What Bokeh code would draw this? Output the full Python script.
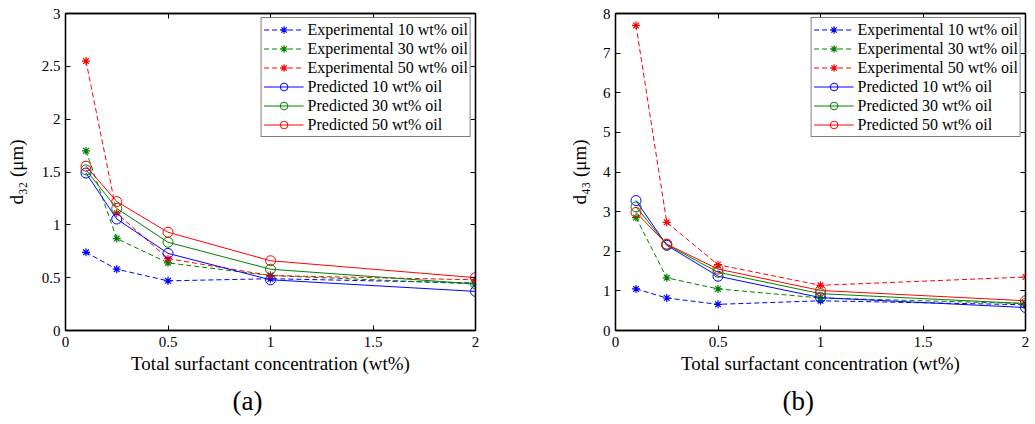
from bokeh.plotting import figure
from bokeh.layouts import row
from bokeh.models import (Range1d, FixedTicker, LinearAxis, Legend, LegendItem,
                          CustomJSTickFormatter, Title)
from bokeh.embed import file_html
from bokeh.resources import INLINE

# ---- data ----
surfactant = [0.1, 0.25, 0.5, 1.0, 2.0]

# panel (a): d32 (um)
exp10_d32 = [0.74, 0.58, 0.47, 0.49, 0.45]
exp30_d32 = [1.70, 0.87, 0.64, 0.52, 0.44]
exp50_d32 = [2.55, 1.11, 0.68, 0.52, 0.48]
pred10_d32 = [1.49, 1.055, 0.73, 0.48, 0.37]
pred30_d32 = [1.52, 1.155, 0.835, 0.58, 0.44]
pred50_d32 = [1.555, 1.22, 0.93, 0.66, 0.50]

# panel (b): d43 (um)
exp10_d43 = [1.05, 0.82, 0.66, 0.75, 0.65]
exp30_d43 = [2.85, 1.33, 1.05, 0.82, 0.68]
exp50_d43 = [7.70, 2.73, 1.66, 1.14, 1.35]
pred10_d43 = [3.28, 2.15, 1.37, 0.83, 0.58]
pred30_d43 = [3.12, 2.17, 1.47, 0.93, 0.68]
pred50_d43 = [2.98, 2.18, 1.55, 1.01, 0.75]

x_ticks = [0, 0.5, 1, 1.5, 2]
x_tick_labels = ["0", "0.5", "1", "1.5", "2"]
y_ticks_a = [0, 0.5, 1, 1.5, 2, 2.5, 3]
y_tick_labels_a = ["0", "0.5", "1", "1.5", "2", "2.5", "3"]
y_ticks_b = [0, 1, 2, 3, 4, 5, 6, 7, 8]
y_tick_labels_b = [str(v) for v in y_ticks_b]

series_labels = ["Experimental 10 wt% oil", "Experimental 30 wt% oil", "Experimental 50 wt% oil",
                 "Predicted 10 wt% oil", "Predicted 30 wt% oil", "Predicted 50 wt% oil"]
x_label = "Total surfactant concentration (wt%)"
y_label_a = "d\u2083\u2082 (\u03bcm)"
y_label_b = "d\u2084\u2083 (\u03bcm)"

BLUE, GREEN, RED = "#0000ff", "#008000", "#ff0000"
FONT = "Liberation Serif"


def style_axis(ax, ticks, labels, show_labels=True):
    ax.ticker = FixedTicker(ticks=ticks)
    ax.major_tick_in = 5
    ax.major_tick_out = 0
    ax.minor_tick_in = 0
    ax.minor_tick_out = 0
    ax.axis_line_color = "black"
    ax.axis_line_width = 1.3
    ax.major_tick_line_color = "black"
    ax.major_tick_line_width = 1
    if show_labels:
        ax.major_label_overrides = {t: l for t, l in zip(ticks, labels)}
        ax.major_label_text_font = FONT
        ax.major_label_text_font_size = "15px"
        ax.major_label_text_color = "black"
    else:
        ax.formatter = CustomJSTickFormatter(code="return ''")
        ax.major_label_text_font_size = "0px"
        ax.major_label_standoff = 0


def make_panel(width, left, right, y_max, y_ticks, y_labels, data, y_label, ylab_standoff,
               panel_tag, tag_offset):
    p = figure(width=width, height=424, output_backend="svg", toolbar_location=None,
               x_range=Range1d(0, 2), y_range=Range1d(0, y_max),
               min_border_left=left, min_border_right=right,
               min_border_top=13, min_border_bottom=94)
    p.grid.visible = False
    p.outline_line_color = "black"
    p.outline_line_width = 1.3
    p.background_fill_color = "white"
    p.border_fill_color = "white"

    style_axis(p.xaxis[0], x_ticks, x_tick_labels)
    style_axis(p.yaxis[0], y_ticks, y_labels)
    p.xaxis[0].major_label_standoff = 6
    p.yaxis[0].major_label_standoff = 5
    p.xaxis[0].axis_label = x_label
    p.xaxis[0].axis_label_text_font = FONT
    p.xaxis[0].axis_label_text_font_size = "19px"
    p.xaxis[0].axis_label_text_font_style = "normal"
    p.xaxis[0].axis_label_text_color = "black"
    p.xaxis[0].axis_label_standoff = 3
    p.yaxis[0].axis_label = y_label
    p.yaxis[0].axis_label_text_font = FONT
    p.yaxis[0].axis_label_text_font_size = "19px"
    p.yaxis[0].axis_label_text_font_style = "normal"
    p.yaxis[0].axis_label_text_color = "black"
    p.yaxis[0].axis_label_standoff = ylab_standoff

    top = LinearAxis()
    style_axis(top, x_ticks, x_tick_labels, show_labels=False)
    p.add_layout(top, "above")
    rgt = LinearAxis()
    style_axis(rgt, y_ticks, y_labels, show_labels=False)
    p.add_layout(rgt, "right")

    colors = [BLUE, GREEN, RED, BLUE, GREEN, RED]
    items = []
    for i, (ys, c, lab) in enumerate(zip(data, colors, series_labels)):
        if i < 3:
            lr = p.line(surfactant, ys, line_color=c, line_width=1, line_dash="5 3")
            sr = p.scatter(surfactant, ys, marker="asterisk", size=8, line_color=c, line_width=1.2)
        else:
            lr = p.line(surfactant, ys, line_color=c, line_width=1)
            sr = p.scatter(surfactant, ys, marker="circle", size=10, line_color=c,
                           fill_color=None, line_width=1)
        items.append(LegendItem(label=lab, renderers=[lr, sr]))

    leg = Legend(items=items, location="top_right", border_line_color="black",
                 border_line_width=1, background_fill_color="white", background_fill_alpha=1,
                 label_text_font=FONT, label_text_font_size="16px", label_text_color="black",
                 glyph_width=40, glyph_height=19, label_height=19, label_standoff=4,
                 spacing=0, padding=2, margin=4)
    p.add_layout(leg, "center")

    tag = Title(text=panel_tag, align="left", offset=tag_offset, text_font=FONT,
                text_font_size="27px", text_font_style="normal", text_color="black",
                standoff=15)
    p.add_layout(tag, "below")
    return p


pa = make_panel(515, 65, 40, 3, y_ticks_a, y_tick_labels_a,
                [exp10_d32, exp30_d32, exp50_d32, pred10_d32, pred30_d32, pred50_d32],
                y_label_a, 12, "(a)", 167)
pb = make_panel(520, 100, 10, 8, y_ticks_b, y_tick_labels_b,
                [exp10_d43, exp30_d43, exp50_d43, pred10_d43, pred30_d43, pred50_d43],
                y_label_b, 10, "(b)", 167)

layout = row(pa, pb)
open("out.html", "w").write(file_html(layout, INLINE))
